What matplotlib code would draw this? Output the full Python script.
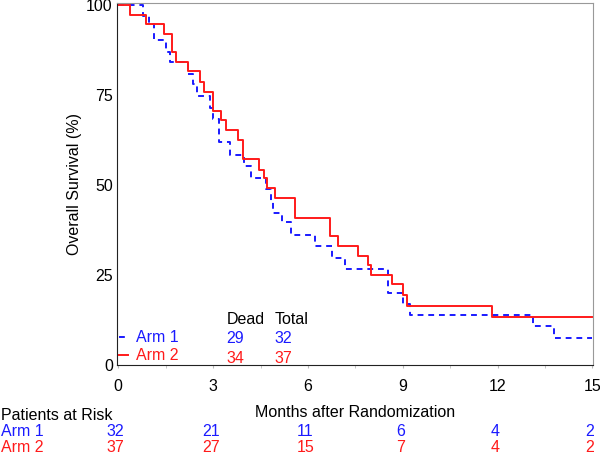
import matplotlib.pyplot as plt
from matplotlib.transforms import blended_transform_factory

plt.rcParams['font.family'] = ['Liberation Sans', 'DejaVu Sans']
plt.rcParams['font.size'] = 11.5

# Kaplan-Meier steps (months, % surviving)
arm1_t = [0, 0.78, 0.97, 1.13, 1.52, 1.65, 2.22, 2.36, 2.50, 2.90, 2.99, 3.20, 3.52,
          3.99, 4.20, 4.67, 4.83, 4.90, 5.17, 5.47, 6.22, 6.75, 7.17, 8.54, 9.02,
          9.23, 13.13, 13.78, 15.0]
arm1_s = [100, 96.9, 94.6, 90.3, 87.0, 84.0, 80.8, 78.0, 74.6, 71.3, 68.3, 61.8, 58.3,
          55.3, 52.0, 49.0, 45.6, 42.3, 39.8, 36.1, 32.9, 29.7, 26.7, 20.1, 16.8,
          14.0, 10.7, 7.6, 7.6]

arm2_t = [0, 0.36, 0.88, 1.46, 1.70, 1.83, 2.22, 2.60, 2.70, 2.99, 3.25, 3.41, 3.78,
          3.94, 4.46, 4.60, 4.70, 4.96, 5.59, 6.69, 6.94, 7.59, 7.90, 7.99, 8.67,
          9.02, 9.12, 11.83, 15.0]
arm2_s = [100, 97.2, 94.6, 91.9, 86.8, 84.0, 81.5, 78.7, 75.9, 70.6, 67.9, 65.3, 62.5,
          57.1, 54.2, 51.9, 49.1, 46.3, 40.9, 35.8, 33.0, 30.3, 27.7, 25.0, 22.4,
          19.4, 16.3, 13.2, 13.2]

arms = ['Arm 1', 'Arm 2']
colors = ['#1a1aff', '#ff1a1a']
dead = [29, 34]
total = [32, 37]

risk_times = [0, 3, 6, 9, 12, 15]
risk_arm1 = [32, 21, 11, 6, 4, 2]
risk_arm2 = [37, 27, 15, 7, 4, 2]

fig = plt.figure(figsize=(6, 4.55), dpi=100)
ax = fig.add_axes([0.195, 0.198, 0.794, 0.796])

ax.step(arm1_t, arm1_s, where='post', color=colors[0], ls=(0, (3, 2.5)), lw=1.4, label=arms[0])
ax.step(arm2_t, arm2_s, where='post', color=colors[1], lw=1.4, label=arms[1])

ax.set_xlim(-0.04, 15.03)
ax.set_ylim(0, 100.6)
ax.set_xticks(risk_times)
ax.set_xticks([1.5, 4.5, 7.5, 10.5, 13.5], minor=True)
ax.set_yticks([0, 25, 50, 75, 100])
ax.tick_params(axis='x', which='both', length=2, color='#bbbbbb', pad=8)
ax.tick_params(axis='y', length=0, pad=3)
for s in ['top', 'right']:
    ax.spines[s].set_color('#999999')
for s in ['left', 'bottom']:
    ax.spines[s].set_color('#222222')

ax.set_ylabel('Overall Survival (%)', labelpad=3)
ax.set_xlabel('Months after Randomization', labelpad=8)

leg = ax.legend(loc='lower left', frameon=False, handlelength=0.6, handletextpad=0.5,
                labelspacing=0.18, borderaxespad=0.0, borderpad=0.1, fontsize=11.5)
for txt, c in zip(leg.get_texts(), colors):
    txt.set_color(c)

# Dead / Total columns next to the legend
ax.text(3.43, 12.6, 'Dead', ha='left', va='center')
ax.text(4.95, 12.6, 'Total', ha='left', va='center')
for i, (d, n) in enumerate(zip(dead, total)):
    yy = 7.2 - i * 5.3
    ax.text(3.43, yy, str(d), color=colors[i], ha='left', va='center')
    ax.text(4.95, yy, str(n), color=colors[i], ha='left', va='center')

# patients at risk table
tr = blended_transform_factory(ax.transData, fig.transFigure)
fig.text(0.002, 1 - 416 / 455, 'Patients at Risk', ha='left', va='center')
for i, row in enumerate([risk_arm1, risk_arm2]):
    yy = 1 - (432 + 15.5 * i) / 455
    fig.text(0.002, yy, arms[i], color=colors[i], ha='left', va='center')
    for t, r in zip(risk_times, row):
        ax.text(t - 0.08, yy, str(r), color=colors[i], ha='center', va='center',
                transform=tr, clip_on=False)

fig.savefig('out.png', dpi=100)
